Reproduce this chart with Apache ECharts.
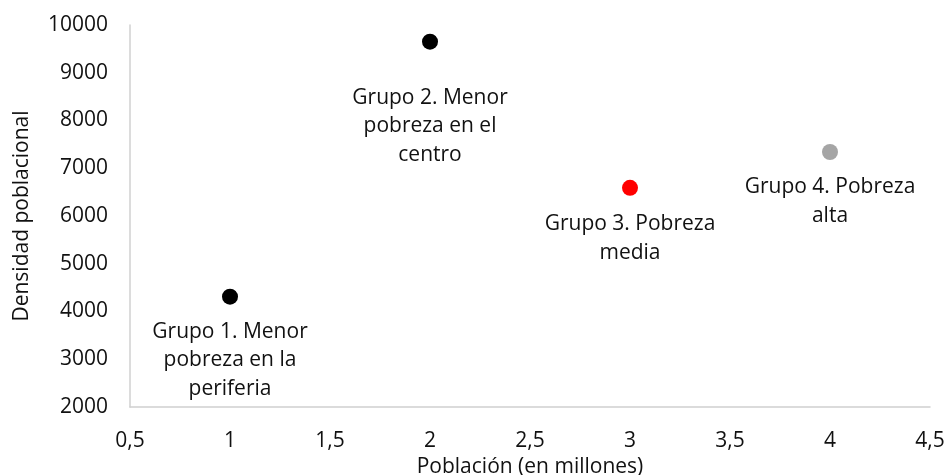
<!DOCTYPE html>
<html><head><meta charset="utf-8">
<script src="https://cdn.jsdelivr.net/npm/echarts@6/dist/echarts.min.js"></script>
<style>html,body{margin:0;padding:0;background:#fff}#c{width:946px;height:475px}</style>
</head><body><div id="c"></div>
<script>
const groupNames = ["Grupo 1. Menor\npobreza en la\nperiferia", "Grupo 2. Menor\npobreza en el\ncentro", "Grupo 3. Pobreza\nmedia", "Grupo 4. Pobreza\nalta"];
const poblacion = [1, 2, 3, 4];
const densidad = [4310, 9650, 6590, 7340];
const colors = ["#000000", "#000000", "#ff0000", "#a5a5a5"];
const labelDist = [13, 34, 14, 13];

const chart = echarts.init(document.getElementById('c'));
const font = '"Open Sans", sans-serif';
const txt = '#111111';
chart.setOption({
  animation: false,
  grid: { left: 130, right: 16, top: 25, bottom: 68, outerBoundsMode: 'none', containLabel: false },
  xAxis: {
    type: 'value', min: 0.5, max: 4.5, interval: 0.5,
    name: 'Población (en millones)', nameLocation: 'middle', nameGap: 48,
    nameTextStyle: { fontFamily: font, fontSize: 21, color: txt },
    axisLine: { show: true, lineStyle: { color: '#d0d0d0', width: 1.5 } },
    axisTick: { show: false }, splitLine: { show: false },
    axisLabel: { fontFamily: font, fontSize: 21, color: txt, margin: 24,
      formatter: v => String(v).replace('.', ',') }
  },
  yAxis: {
    type: 'value', min: 2000, max: 10000, interval: 1000,
    name: 'Densidad poblacional', nameLocation: 'middle', nameGap: 97,
    nameTextStyle: { fontFamily: font, fontSize: 21, color: txt },
    axisLine: { show: true, lineStyle: { color: '#d0d0d0', width: 1.5 } },
    axisTick: { show: false }, splitLine: { show: false },
    axisLabel: { fontFamily: font, fontSize: 21, color: txt, margin: 22,
      formatter: v => String(v) }
  },
  series: [{
    type: 'scatter', symbolSize: 16,
    itemStyle: { opacity: 1 },
    emphasis: { disabled: true },
    data: poblacion.map((x, i) => ({
      value: [x, densidad[i]], name: groupNames[i],
      itemStyle: { color: colors[i], opacity: 1 },
      label: { distance: labelDist[i] }
    })),
    label: { show: true, position: 'bottom', formatter: p => p.name, opacity: 1,
      fontFamily: font, fontSize: 21, lineHeight: 28.5, color: txt, align: 'center' }
  }]
});
</script></body></html>
